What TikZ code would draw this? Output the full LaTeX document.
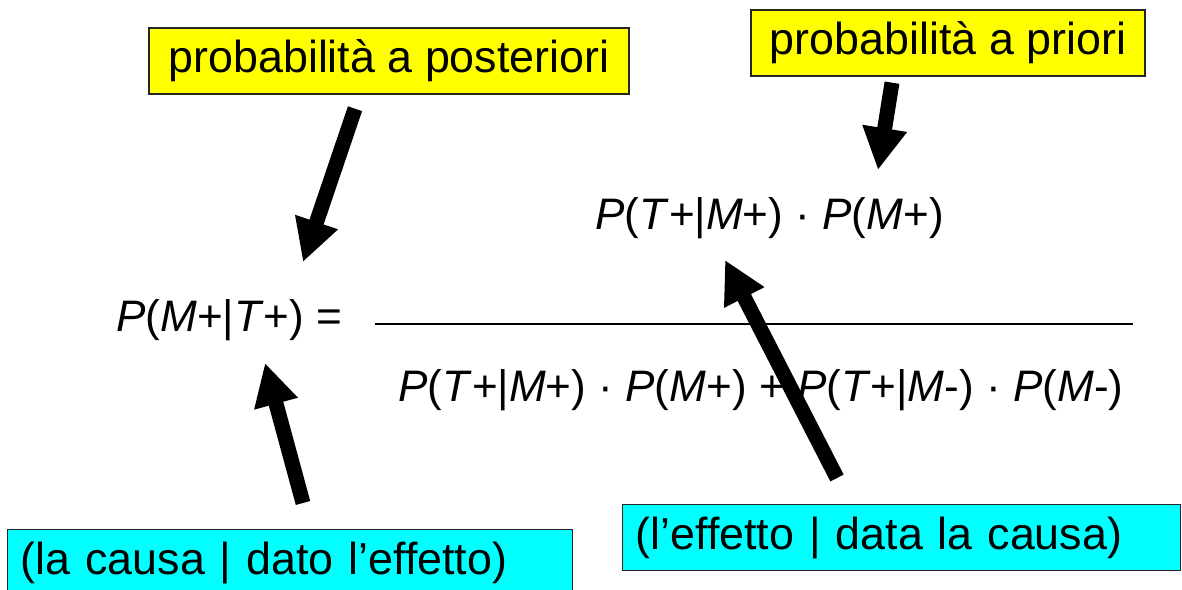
\documentclass[tikz,border=0pt]{standalone}
\usepackage{fontspec}
\setmainfont{Liberation Sans}
\usetikzlibrary{arrows.meta,calc}
\definecolor{boxyellow}{RGB}{255,255,0}
\definecolor{boxcyan}{RGB}{0,255,255}

\begin{document}
\begin{tikzpicture}[x=0.02cm, y=-0.02cm]
\tikzstyle{labelbox} = [rectangle, draw=black!85, line width=0.8pt, inner sep=0pt, font=\fontsize{25.5}{30}\selectfont]
\tikzstyle{prob} = [labelbox, fill=boxyellow, minimum height=1.32cm, text centered]
\tikzstyle{reading} = [labelbox, fill=boxcyan, minimum height=1.32cm, inner xsep=0.26cm, align=left, anchor=north west]
\tikzstyle{formula} = [inner sep=0pt, anchor=base west, font=\fontsize{25.1}{30}\selectfont]
\tikzstyle{bigarrow} = [line width=8.5pt, -{Triangle[length=24pt,width=24pt]}]

\useasboundingbox (0,0) rectangle (1182,590);

\node (post) [prob, minimum width=9.6cm] at (389,61) {probabilità a posteriori};
\node (prior) [prob, minimum width=7.88cm] at (948,43) {probabilità a priori};
\node (cause) [reading, text width=10.78cm] at (7,529) {(la causa | dato l’effetto)};
\node (effect) [reading, text width=10.64cm] at (622,504) {(l’effetto | data la causa)};

\node (lhs) [formula] at (116,332) {\textit{P}(\textit{M}+|\textit{T}+) =};
\node (num) [formula] at (595,230) {\textit{P}(\textit{T}+|\textit{M}+) · \textit{P}(\textit{M}+)};
\node (den) [formula] at (398,402) {\textit{P}(\textit{T}+|\textit{M}+) · \textit{P}(\textit{M}+) + \textit{P}(\textit{T}+|\textit{M}-) · \textit{P}(\textit{M}-)};
\draw [line width=1.1pt] (375,324) -- (1133,324);

\draw [bigarrow] ($(post.south)+(-34,14)$) -- ($(lhs.base west)+(187,-70)$);
\draw [bigarrow] ($(prior.south)+(-56,6)$) -- ($(num.base west)+(283,-60)$);
\draw [bigarrow] ($(effect.north west)+(215,-26)$) -- ($(num.base west)+(130,30)$);
\draw [bigarrow] ($(cause.north west)+(296,-26)$) -- ($(lhs.base west)+(149,31)$);
\end{tikzpicture}
\end{document}
